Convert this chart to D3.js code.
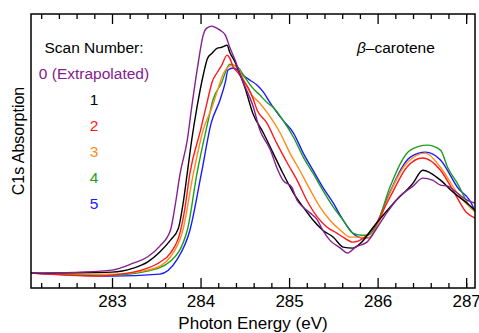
<!DOCTYPE html>
<html>
<head>
<meta charset="utf-8">
<script src="https://cdn.jsdelivr.net/npm/d3@7"></script>
<style>
  body { margin: 0; background: #fff; }
  svg text { font-family: "Liberation Sans", Arial, sans-serif; }
</style>
</head>
<body>
<div class="view"></div>
<script>
// data (photon energy in eV, absorption in arbitrary units)
const scan0 = [[282.085,0],[282.64,0.004],[283.00,0.012],[283.24,0.040],[283.40,0.065],[283.54,0.109],[283.66,0.173],[283.71,0.266],[283.77,0.403],[283.85,0.536],[283.90,0.669],[283.97,0.839],[284.03,0.960],[284.07,0.988],[284.13,0.996],[284.16,0.992],[284.22,0.980],[284.28,0.960],[284.33,0.911],[284.39,0.859],[284.45,0.798],[284.53,0.730],[284.59,0.677],[284.67,0.577],[284.79,0.496],[284.86,0.427],[284.93,0.375],[285.03,0.347],[285.09,0.294],[285.16,0.266],[285.24,0.242],[285.32,0.214],[285.38,0.173],[285.46,0.133],[285.58,0.101],[285.66,0.081],[285.75,0.105],[285.88,0.125],[285.99,0.181],[286.11,0.246],[286.25,0.310],[286.40,0.351],[286.51,0.383],[286.62,0.375],[286.71,0.355],[286.79,0.351],[286.90,0.323],[287.01,0.294],[287.10,0.282]]
const scan1 = [[282.085,0],[283.00,0.004],[283.24,0.020],[283.40,0.044],[283.54,0.085],[283.66,0.133],[283.75,0.181],[283.80,0.274],[283.85,0.403],[283.90,0.536],[283.96,0.669],[284.03,0.798],[284.08,0.867],[284.13,0.887],[284.19,0.907],[284.24,0.911],[284.30,0.919],[284.33,0.891],[284.39,0.851],[284.45,0.798],[284.50,0.750],[284.59,0.645],[284.71,0.565],[284.82,0.484],[284.93,0.403],[285.05,0.323],[285.16,0.266],[285.27,0.214],[285.38,0.173],[285.50,0.145],[285.61,0.105],[285.72,0.101],[285.82,0.125],[285.95,0.185],[286.18,0.282],[286.40,0.363],[286.51,0.415],[286.71,0.375],[286.85,0.327],[287.01,0.282],[287.10,0.254]]
const scan2 = [[282.085,0],[282.83,-0.012],[283.00,-0.008],[283.24,0.004],[283.40,0.020],[283.54,0.044],[283.66,0.081],[283.77,0.165],[283.82,0.254],[283.88,0.403],[284.00,0.577],[284.08,0.698],[284.13,0.770],[284.19,0.810],[284.24,0.839],[284.30,0.879],[284.33,0.867],[284.37,0.831],[284.42,0.810],[284.48,0.778],[284.54,0.746],[284.59,0.706],[284.64,0.657],[284.75,0.605],[284.86,0.524],[284.98,0.444],[285.09,0.375],[285.20,0.294],[285.32,0.226],[285.43,0.185],[285.54,0.161],[285.61,0.145],[285.72,0.125],[285.84,0.141],[285.95,0.181],[286.14,0.306],[286.33,0.427],[286.51,0.464],[286.71,0.415],[286.85,0.335],[287.01,0.242],[287.10,0.222]]
const scan3 = [[282.085,0],[283.00,-0.004],[283.40,0.012],[283.54,0.028],[283.66,0.065],[283.80,0.173],[283.92,0.403],[284.03,0.577],[284.13,0.669],[284.20,0.746],[284.25,0.798],[284.31,0.831],[284.37,0.839],[284.42,0.827],[284.50,0.770],[284.58,0.718],[284.67,0.685],[284.79,0.629],[284.90,0.565],[285.01,0.484],[285.12,0.415],[285.24,0.335],[285.35,0.266],[285.46,0.214],[285.58,0.173],[285.69,0.145],[285.80,0.145],[285.89,0.141],[286.00,0.194],[286.14,0.323],[286.33,0.444],[286.54,0.484],[286.71,0.427],[286.90,0.323],[287.10,0.246]]
const scan4 = [[282.085,0],[283.00,-0.008],[283.40,0.008],[283.66,0.048],[283.85,0.173],[283.96,0.403],[284.08,0.605],[284.14,0.698],[284.24,0.770],[284.30,0.827],[284.33,0.843],[284.37,0.839],[284.42,0.831],[284.50,0.790],[284.58,0.750],[284.67,0.718],[284.76,0.685],[284.82,0.669],[284.93,0.617],[285.05,0.548],[285.16,0.468],[285.27,0.403],[285.38,0.335],[285.50,0.266],[285.61,0.214],[285.72,0.161],[285.82,0.153],[285.89,0.153],[286.00,0.206],[286.14,0.347],[286.37,0.496],[286.56,0.516],[286.71,0.496],[286.79,0.427],[286.90,0.363],[287.05,0.266],[287.10,0.254]]
const scan5 = [[282.085,0],[283.00,-0.012],[283.54,-0.004],[283.73,0.052],[283.88,0.173],[284.01,0.403],[284.12,0.605],[284.22,0.698],[284.28,0.770],[284.31,0.819],[284.37,0.827],[284.42,0.819],[284.48,0.798],[284.56,0.778],[284.64,0.758],[284.71,0.730],[284.79,0.685],[284.93,0.617],[285.05,0.565],[285.16,0.484],[285.27,0.415],[285.38,0.347],[285.50,0.282],[285.61,0.214],[285.72,0.161],[285.84,0.141],[285.92,0.145],[286.00,0.206],[286.14,0.327],[286.37,0.468],[286.54,0.488],[286.71,0.456],[286.90,0.347],[287.08,0.266],[287.10,0.246]]

const scanLabels = ['0 (Extrapolated)', '1', '2', '3', '4', '5']
const scanColors = ['#84208f', '#000000', '#ff1a1a', '#ff8c1a', '#1e9e1e', '#1a1aff']
const majorTicks = [283, 284, 285, 286, 287]
const minorTicks = [282.2, 282.4, 282.6, 282.8, 283.2, 283.4, 283.6, 283.8, 284.2, 284.4, 284.6, 284.8,
                    285.2, 285.4, 285.6, 285.8, 286.2, 286.4, 286.6, 286.8, 287.0]

const w = 479
const h = 333
const margin = {top: 14, right: 4, bottom: 45, left: 31}

const svg = d3.select('.view')
    .append('svg')
    .attr('width', w)
    .attr('height', h)

const xScale = d3.scaleLinear()
    .domain([282.085, 287.10])
    .range([margin.left, w - margin.right])

const yScale = d3.scaleLinear()
    .domain([-0.06, 1.045])
    .range([h - margin.bottom, margin.top])

// curves, drawn back to front
const series = [scan5, scan4, scan3, scan2, scan1, scan0]
const seriesColors = scanColors.slice().reverse()

const line = d3.line()
    .x((d) => xScale(d[0]))
    .y((d) => yScale(d[1]))
    .curve(d3.curveMonotoneX)

svg.append('g')
    .selectAll('path')
    .data(series)
    .enter()
    .append('path')
    .attr('d', line)
    .attr('fill', 'none')
    .attr('stroke', (d, i) => seriesColors[i])
    .attr('stroke-width', 1.4)

// ticks (pointing inward)
const bottomY = h - margin.bottom
const xAxis = d3.axisBottom(xScale).tickValues(majorTicks).tickFormat(d3.format('d'))
    .tickSize(-10).tickPadding(7)
const xMinor = d3.axisBottom(xScale).tickValues(minorTicks).tickFormat('').tickSize(-5)
const topAxis = d3.axisTop(xScale).tickValues(majorTicks).tickFormat('').tickSize(-10)
const topMinor = d3.axisTop(xScale).tickValues(minorTicks).tickFormat('').tickSize(-5)

svg.append('g').attr('class', 'x-axis')
    .attr('transform', 'translate(0,' + bottomY + ')').call(xAxis)
svg.append('g').attr('transform', 'translate(0,' + bottomY + ')').call(xMinor)
svg.append('g').attr('transform', 'translate(0,' + margin.top + ')').call(topAxis)
svg.append('g').attr('transform', 'translate(0,' + margin.top + ')').call(topMinor)

svg.selectAll('.domain').remove()
svg.selectAll('.tick line').attr('stroke', '#000').attr('stroke-width', 1.3)
svg.select('.x-axis').selectAll('text')
    .attr('font-size', 17)
    .attr('fill', '#000')
    .style('font-family', '"Liberation Sans", Arial, sans-serif')

// frame
svg.append('rect')
    .attr('x', margin.left)
    .attr('y', margin.top)
    .attr('width', w - margin.left - margin.right)
    .attr('height', h - margin.top - margin.bottom)
    .attr('fill', 'none')
    .attr('stroke', '#000')
    .attr('stroke-width', 1.5)

// legend
svg.append('text')
    .attr('x', 94)
    .attr('y', 53)
    .attr('text-anchor', 'middle')
    .attr('font-size', 15.5)
    .text('Scan Number:')

svg.append('g')
    .selectAll('text')
    .data(scanLabels)
    .enter()
    .append('text')
    .attr('x', 94)
    .attr('y', (d, i) => 79 + i * 26)
    .attr('text-anchor', 'middle')
    .attr('font-size', 15.5)
    .attr('fill', (d, i) => scanColors[i])
    .text((d) => d)

const title = svg.append('text')
    .attr('x', 357)
    .attr('y', 53)
    .attr('font-size', 15.5)
title.append('tspan').attr('font-style', 'italic').text('β')
title.append('tspan').text('–carotene')

// axis titles
svg.append('text')
    .attr('x', (margin.left + w - margin.right) / 2)
    .attr('y', 329)
    .attr('text-anchor', 'middle')
    .attr('font-size', 17)
    .text('Photon Energy (eV)')

svg.append('text')
    .attr('transform', 'translate(24,141) rotate(-90)')
    .attr('text-anchor', 'middle')
    .attr('font-size', 16)
    .text('C1s Absorption')
</script>
</body>
</html>
